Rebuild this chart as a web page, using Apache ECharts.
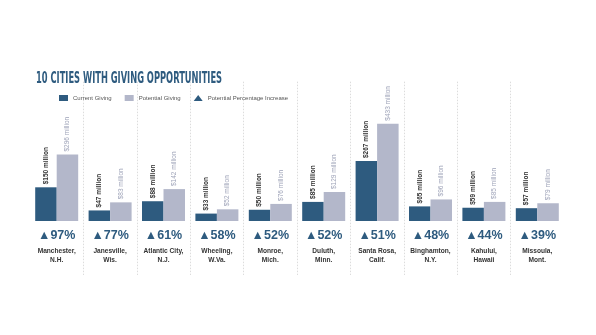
<!DOCTYPE html>
<html><head><meta charset="utf-8">
<script src="https://cdn.jsdelivr.net/npm/echarts@6/dist/echarts.min.js"></script>
<style>html,body{margin:0;padding:0;background:#fff}#c{width:596px;height:335px}</style>
</head><body><div id="c"></div>
<script>
const cities = ['Manchester,\nN.H.','Janesville,\nWis.','Atlantic City,\nN.J.','Wheeling,\nW.Va.','Monroe,\nMich.','Duluth,\nMinn.','Santa Rosa,\nCalif.','Binghamton,\nN.Y.','Kahului,\nHawaii','Missoula,\nMont.'];
const currentGiving = [150, 47, 88, 33, 50, 85, 267, 65, 59, 57];
const potentialGiving = [296, 83, 142, 52, 76, 129, 433, 96, 85, 79];
const pctIncrease = [97, 77, 61, 58, 52, 52, 51, 48, 44, 39];
const titleText = '10 CITIES WITH GIVING OPPORTUNITIES';

const DARK = '#2e5b7f', LIGHT = '#b3b7ca';
const chart = echarts.init(document.getElementById('c'), null, {renderer:'canvas'});
chart.setOption({
  backgroundColor:'#fff',
  animation:false,
  graphic:[{type:'text', x:36, y:70.5, scaleX:0.56, scaleY:1,
    style:{text:titleText, font:'bold 16.5px "DejaVu Sans Condensed", "DejaVu Sans"', fill:DARK}}],
  legend:{left:54, top:90, itemWidth:9, itemHeight:6, itemGap:13,
    textStyle:{fontSize:6, color:'#555', fontFamily:'Liberation Sans'},
    data:[{name:'Current Giving', icon:'rect'},{name:'Potential Giving', icon:'rect'},
          {name:'Potential Percentage Increase', icon:'triangle', itemStyle:{color:DARK}}]},
  grid:[{left:30, right:32, top:81.7, bottom:114},
        {left:30, right:32, top:81.7, bottom:60}],
  xAxis:[{type:'category', gridIndex:0, data:cities, axisLine:{show:false}, axisTick:{show:false},
    splitLine:{show:false},
    axisLabel:{interval:0, margin:7, formatter:(v, i)=>{
      const parts = v.split('\n');
      return '{p|▲' + pctIncrease[i] + '%}\n{g| }\n{c|' + parts[0] + '}\n{c|' + parts[1] + '}';
    }, rich:{
      p:{fontSize:12.5, fontWeight:'bold', color:DARK, lineHeight:16, fontFamily:'Liberation Sans'},
      g:{fontSize:2, lineHeight:3},
      c:{fontSize:6.6, fontWeight:'bold', color:'#333', lineHeight:9, fontFamily:'Liberation Sans'}
    }}},
    {type:'category', gridIndex:1, data:cities, axisLine:{show:false}, axisTick:{show:false}, axisLabel:{show:false, interval:0},
     splitLine:{show:true, interval:0, showMinLine:false, showMaxLine:false, lineStyle:{color:'#dcdcdc', type:[1.5,1.5], width:1}}}],
  yAxis:[{type:'value', gridIndex:0, min:0, max:620, show:false, splitLine:{show:false}},
         {type:'value', gridIndex:1, min:0, max:1, show:false, splitLine:{show:false}}],
  series:[
    {name:'Current Giving', type:'bar', data:currentGiving, barWidth:21.5, barGap:'0%', itemStyle:{color:DARK},
     label:{show:true, position:'top', rotate:90, align:'left', verticalAlign:'middle', distance:3,
       formatter:p=>'$'+p.value+' million', fontSize:6.5, fontWeight:'bold', color:'#333', fontFamily:'Liberation Sans'}},
    {name:'Potential Giving', type:'bar', data:potentialGiving, barWidth:21.5, itemStyle:{color:LIGHT},
     label:{show:true, position:'top', rotate:90, align:'left', verticalAlign:'middle', distance:3,
       formatter:p=>'$'+p.value+' million', fontSize:6.5, color:'#9ea3b8', fontFamily:'Liberation Sans'}},
    {name:'Potential Percentage Increase', type:'line', data:[], itemStyle:{color:DARK}}
  ]
});
</script></body></html>
